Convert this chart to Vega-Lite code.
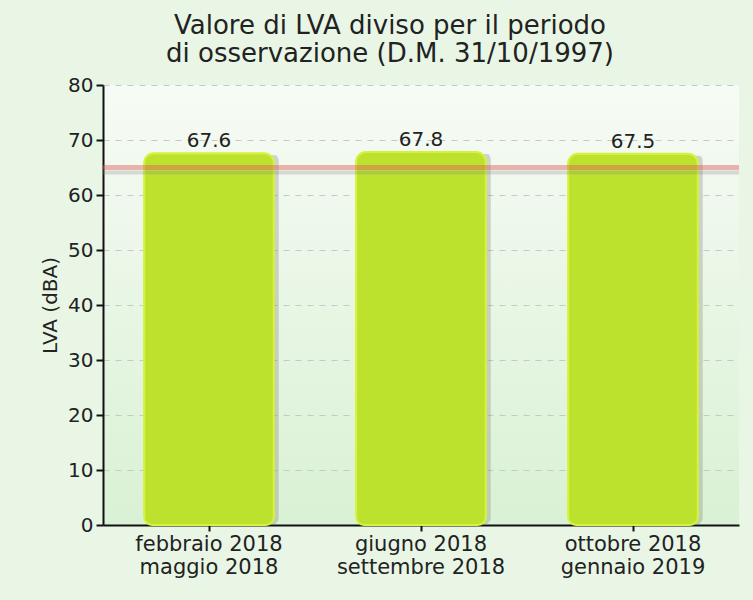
{
  "$schema": "https://vega.github.io/schema/vega-lite/v6.json",
  "width": 636,
  "height": 440,
  "autosize": {"type": "none"},
  "padding": {"left": 103, "top": 85, "right": 14, "bottom": 75},
  "background": "#e9f6e6",
  "config": {
    "font": "DejaVu Sans",
    "view": {"stroke": null, "fill": {"gradient": "linear", "x1": 0, "y1": 0, "x2": 0, "y2": 1, "stops": [{"offset": 0, "color": "#f7fbf5"}, {"offset": 1, "color": "#d9f1d4"}]}}
  },
  "title": {
    "text": ["Valore di LVA diviso per il periodo", "di osservazione (D.M. 31/10/1997)"],
    "fontSize": 26,
    "fontWeight": "normal",
    "color": "#222222",
    "anchor": "middle",
    "dx": -31,
    "offset": 8,
    "lineHeight": 28
  },
  "datasets": {
    "bars": [
      {"periodo": "febbraio 2018|maggio 2018", "lva": 67.6},
      {"periodo": "giugno 2018|settembre 2018", "lva": 67.8},
      {"periodo": "ottobre 2018|gennaio 2019", "lva": 67.5}
    ],
    "limite": [{"limite": 65}]
  },
  "layer": [
    {
      "data": {"name": "bars"},
      "mark": {"type": "bar", "color": "#7a7a7a", "opacity": 0.3, "xOffset": 5, "yOffset": 2, "cornerRadius": 8, "width": {"band": 0.68}},
      "encoding": {
        "x": {"field": "periodo", "type": "nominal", "sort": null,
          "axis": {"title": null, "labelExpr": "split(datum.label, '|')", "labelAngle": 0, "labelFontSize": 21, "labelColor": "#222222", "labelPadding": 2, "labelLineHeight": 23, "tickColor": "#111111", "tickSize": 6, "tickWidth": 2, "domainColor": "#111111", "domainWidth": 2, "grid": false}},
        "y": {"field": "lva", "type": "quantitative",
          "scale": {"domain": [0, 80], "nice": false},
          "axis": {"title": "LVA (dBA)", "titleFontSize": 20, "titleFontWeight": "normal", "titleColor": "#222222", "titlePadding": 7,
            "values": [0, 5, 10, 15, 20, 25, 30, 35, 40, 45, 50, 55, 60, 65, 70, 75, 80],
            "labelExpr": "datum.value % 10 == 0 ? datum.label : ''",
            "labelFontSize": 20, "labelColor": "#222222", "labelPadding": 3,
            "tickSize": 7, "tickWidth": 2,
            "tickColor": {"condition": {"test": "datum.value % 10 != 0", "value": "#ee3030"}, "value": "#111111"},
            "domainColor": "#111111", "domainWidth": 2,
            "grid": true, "gridDash": [6, 6], "gridColor": "#c8c8c8",
            "gridOpacity": {"condition": {"test": "datum.value % 10 != 0 || datum.value == 0", "value": 0}, "value": 1}}}
      }
    },
    {
      "data": {"name": "bars"},
      "mark": {"type": "bar", "color": "#bde22e", "stroke": "#d6f23c", "strokeWidth": 2, "cornerRadiusTopLeft": 10, "cornerRadiusTopRight": 10, "cornerRadiusBottomLeft": 8, "cornerRadiusBottomRight": 8, "width": {"band": 0.68}},
      "encoding": {
        "x": {"field": "periodo", "type": "nominal", "sort": null},
        "y": {"field": "lva", "type": "quantitative"}
      }
    },
    {
      "data": {"name": "bars"},
      "mark": {"type": "text", "fontSize": 20, "color": "#222222", "dy": -2, "baseline": "bottom"},
      "encoding": {
        "x": {"field": "periodo", "type": "nominal", "sort": null},
        "y": {"field": "lva", "type": "quantitative"},
        "text": {"field": "lva", "type": "quantitative", "format": ".1f"}
      }
    },
    {
      "data": {"name": "limite"},
      "mark": {"type": "rule", "color": "#808080", "opacity": 0.25, "strokeWidth": 4, "yOffset": 5},
      "encoding": {"y": {"field": "limite", "type": "quantitative"}}
    },
    {
      "data": {"name": "limite"},
      "mark": {"type": "rule", "color": "#e05a5a", "opacity": 0.45, "strokeWidth": 5},
      "encoding": {"y": {"field": "limite", "type": "quantitative"}}
    }
  ]
}
